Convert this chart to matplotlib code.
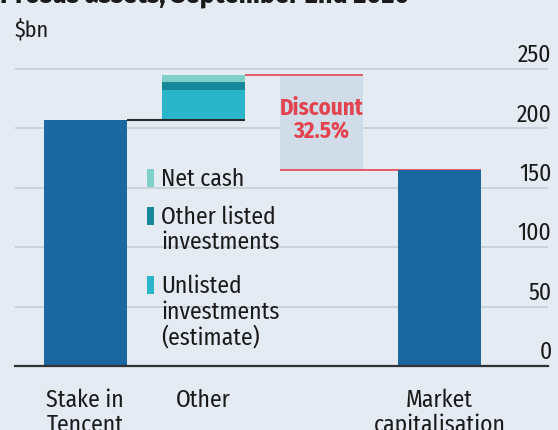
import matplotlib.pyplot as plt
from matplotlib.patches import Rectangle
import matplotlib.transforms as mtransforms

# values in $bn
categories = ["Stake in\nTencent", "Other", "", "Market\ncapitalisation"]
tencent = 207
other_parts = ["Unlisted\ninvestments\n(estimate)", "Other listed\ninvestments", "Net cash"]
other_values = [25, 7, 6]
market_cap = 165
discount_label = "Discount\n32.5%"
yticks = [0, 50, 100, 150, 200, 250]

BG = "#e4ebf2"
BLUE = "#1b67a0"
part_colors = ["#2bb5cb", "#17879a", "#7fd0c8"]
RED = "#e3434e"
GRID = "#c5ced7"
INK = "#1a1a1a"

plt.rcParams["font.family"] = ["Fira Sans Condensed", "DejaVu Sans"]

fig = plt.figure(figsize=(5.58, 4.31), dpi=100)
fig.patch.set_facecolor(BG)
ax = fig.add_axes([15 / 558, (431 - 367) / 431, 533 / 558, 309 / 431])
ax.set_facecolor(BG)
ax.set_xlim(-0.596, 3.92)
ax.set_ylim(0, 260)
for s in ax.spines.values():
    s.set_visible(False)
ax.set_xticks([])
ax.set_yticks([])

w = 0.7
# gridlines with the labels sitting on them, right side
for t in yticks:
    if t > 0:
        ax.axhline(t, color=GRID, lw=1.2, zorder=0)
    ax.text(3.95, t + 2.5, str(t), ha="right", va="bottom", fontsize=17, color=INK)

# discount box between the sum of parts and market value
total = tencent + sum(other_values)
ax.add_patch(Rectangle((2 - w / 2, market_cap), w, total - market_cap,
                       facecolor="#d0dce7", edgecolor="none", zorder=1))
ax.text(2, (total + market_cap) / 2 + 3, discount_label, ha="center", va="center",
        fontsize=16.5, fontweight="bold", color=RED, linespacing=1.05)
ax.hlines(total, 1 + w / 2, 2 + w / 2, color=RED, lw=1.2, zorder=2)
ax.hlines(market_cap, 2 - w / 2, 3 + w / 2, color=RED, lw=1.2, zorder=2)

# bars
ax.bar(0, tencent, width=w, color=BLUE, zorder=3)
bottom = tencent
for v, c in zip(other_values, part_colors):
    ax.bar(1, v, width=w, bottom=bottom, color=c, zorder=3)
    bottom += v
ax.bar(3, market_cap, width=w, color=BLUE, zorder=3)
ax.hlines(tencent, 0 + w / 2, 1 + w / 2, color="#2a2a2a", lw=1.5, zorder=4)

# baseline
ax.axhline(0, color="#333333", lw=1.6, zorder=5, clip_on=False)

# legend
leg_y = [60.5, 119, 150.5]
for (lab, c, y0) in zip(other_parts, part_colors, leg_y):
    ax.add_patch(Rectangle((0.522, y0), 0.062, 15, facecolor=c, edgecolor="none", zorder=3))
    ax.text(0.64, y0 + 17, lab, ha="left", va="top", fontsize=17,
            color=INK, linespacing=1.12)

# category labels
trans = mtransforms.blended_transform_factory(ax.transData, fig.transFigure)
for i, lab in enumerate(categories):
    if lab:
        ax.text(i, 1 - 389 / 431, lab, transform=trans, ha="center", va="top",
                fontsize=17, color=INK, linespacing=1.1)

fig.text(15 / 558, 1 - 36 / 431, "$bn", ha="left", va="baseline", fontsize=16, color=INK)
fig.text(0.0, 1 - 3 / 431, "Prosus assets, September 2nd 2020", ha="left", va="baseline",
         fontsize=20, fontweight="bold", color=INK)

fig.savefig("out.png", dpi=100, facecolor=BG)
